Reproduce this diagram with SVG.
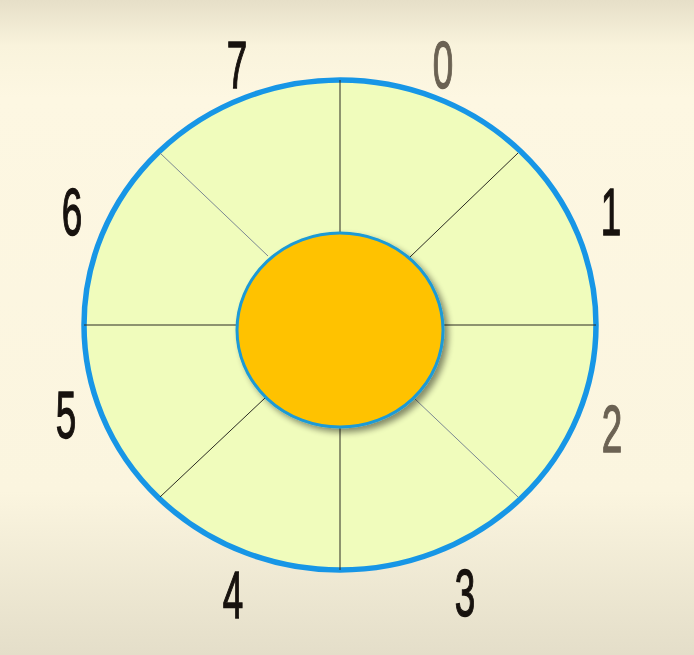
<svg xmlns="http://www.w3.org/2000/svg" width="694" height="655" viewBox="0 0 694 655">
<defs>
<linearGradient id="bg" x1="0" y1="0" x2="0" y2="1">
<stop offset="0" stop-color="#e6dfc8"/>
<stop offset="0.07" stop-color="#f9f3dc"/>
<stop offset="0.15" stop-color="#fdf7e2"/>
<stop offset="0.75" stop-color="#fbf5df"/>
<stop offset="1" stop-color="#e4dec9"/>
</linearGradient>
<filter id="sh" x="-20%" y="-20%" width="150%" height="150%">
<feGaussianBlur in="SourceAlpha" stdDeviation="3"/>
<feOffset dx="4" dy="4" result="b"/>
<feComponentTransfer><feFuncA type="linear" slope="0.45"/></feComponentTransfer>
<feMerge><feMergeNode/><feMergeNode in="SourceGraphic"/></feMerge>
</filter>
</defs>
<style>
.num{font-family:"Liberation Sans",Arial,sans-serif;font-size:67px;text-anchor:middle;fill:#17120e;stroke:#17120e;stroke-width:1.4}
.gray{fill:#6b6253;stroke:#6b6253}
.sp{stroke-width:1}
</style>
<rect width="694" height="655" fill="url(#bg)"/>
<g id="outer">
<ellipse cx="340" cy="325" rx="256" ry="245" fill="#f0fcbc" stroke="#1796e6" stroke-width="5.5"/>
</g>
<g id="connectors" class="sp">
<line x1="340" y1="80" x2="340" y2="233" stroke="#2a2a22"/>
<line x1="340" y1="427" x2="340" y2="570" stroke="#2a2a22"/>
<line x1="84" y1="325" x2="237" y2="325" stroke="#2a2a22"/>
<line x1="443" y1="325" x2="596" y2="325" stroke="#2a2a22"/>
<line x1="160" y1="153" x2="268" y2="256" stroke="#7b8792"/>
<line x1="518" y1="153" x2="410" y2="257" stroke="#2a2a22"/>
<line x1="160" y1="497" x2="265" y2="398" stroke="#2a2a22"/>
<line x1="518" y1="497" x2="415" y2="399" stroke="#7b8792"/>
</g>
<g id="center">
<ellipse cx="340" cy="330" rx="103" ry="97" fill="#ffc200" stroke="#1b9ad6" stroke-width="3" filter="url(#sh)"/>
</g>
<g id="labels">
<text class="num gray" transform="translate(443,88) scale(0.55,1)">0</text>
<text class="num" transform="translate(611,235) scale(0.55,1)">1</text>
<text class="num gray" transform="translate(612,452) scale(0.55,1)">2</text>
<text class="num" transform="translate(465,616) scale(0.55,1)">3</text>
<text class="num" transform="translate(233,618) scale(0.55,1)">4</text>
<text class="num" transform="translate(66,438) scale(0.55,1)">5</text>
<text class="num" transform="translate(72,235) scale(0.55,1)">6</text>
<text class="num" transform="translate(237,88) scale(0.55,1)">7</text>
</g>
</svg>
